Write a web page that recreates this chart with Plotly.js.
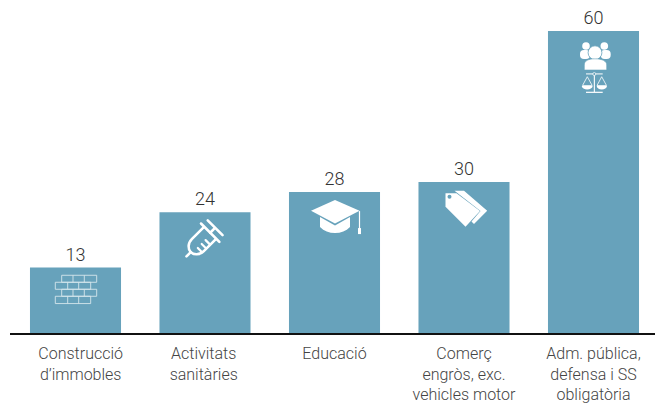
<!DOCTYPE html>
<html><head><meta charset="utf-8">
<script src="https://cdn.plot.ly/plotly-3.0.1.min.js"></script>
<style>html,body{margin:0;padding:0;background:#fff}</style>
</head><body><div id="chart" style="width:655px;height:403px"></div>
<script>
const categories = ["Construcció d’immobles","Activitats sanitàries","Educació","Comerç engròs, exc. vehicles motor","Adm. pública, defensa i SS obligatòria"];
const values = [13,24,28,30,60];
const tickLabels = ["Construcció<br>d’immobles","Activitats<br>sanitàries","Educació","Comerç<br>engròs, exc.<br>vehicles motor","Adm. pública,<br>defensa i SS<br>obligatòria"];
const labelNudge = [0.04,-0.01,0,0,0];
const barColor = "#67a2bb";
const W = 655, H = 403, baseY = 333, pxPerUnit = 5.033, left = 10;
const step = 129.5, firstCenter = 75.5;

function wrap(cx, top, body){
  const s = `<svg xmlns="http://www.w3.org/2000/svg" width="280" height="280" viewBox="${cx-35} ${top} 70 70">${body}</svg>`;
  return "data:image/svg+xml;charset=utf-8," + encodeURIComponent(s);
}
const bricks = `<g fill="none" stroke="#d6e6ec" stroke-width="0.9">
<path d="M61.7 275.7H96.7V282.7H61.7ZM73 275.7V282.7M84.3 275.7V282.7"/>
<path d="M55.3 282.7H90.7V289.7H55.3ZM67.7 282.7V289.7M78.7 282.7V289.7"/>
<path d="M61.7 289.7H96.7V296.7H61.7ZM73 289.7V296.7M84.3 289.7V296.7"/>
<path d="M55.3 296.7H90.7V304H55.3ZM67.7 296.7V304M78.7 296.7V304"/></g>`;
const syringe = `<g transform="translate(186,257) rotate(-45)" fill="none" stroke="#fff" stroke-width="2.6" stroke-linecap="round">
<path d="M0 0H6"/>
<path d="M33 -8.5H16C10 -8.5 6 -4 6 0C6 4 10 8.5 16 8.5H33"/>
<path d="M33.5 -13V13"/><path d="M33.5 0H40"/><path d="M40.5 -10.5V10.5"/>
<path d="M14 8V2M19.5 8V2M25 8V2" stroke-width="2.2"/></g>`;
const hat = `<g fill="#fff"><path d="M335 200L359.5 210.7L335 223.3L311 210.7Z"/>
<path d="M320 217L335 225.5L350 217V227C346 231 341 233 335 233C329 233 324 231 320 227Z"/>
<rect x="358.9" y="211" width="1.2" height="18"/><rect x="358" y="228" width="3" height="6"/></g>`;
const tags = `<path fill="#fff" d="M454 190.7H463.5L486.7 210.7L473.5 224L471 221.5L480 211Z"/>
<path fill="#fff" d="M445 193.3H456L479.5 211L465 226.7L445 206.7Z"/>
<circle cx="449" cy="196.7" r="2" fill="${barColor}"/>`;
const admin = `<g fill="#fff"><circle cx="586" cy="46" r="3.8"/><circle cx="604.3" cy="46" r="3.8"/>
<rect x="580" y="50" width="10" height="9" rx="4"/><rect x="600.7" y="50" width="10" height="9" rx="4"/>
<circle cx="595" cy="52.7" r="6.9" stroke="${barColor}" stroke-width="0.8"/>
<path d="M584.3 70V65C584.3 61 588 58.8 595 58.8C602 58.8 606.7 61 606.7 65V70Z" stroke="${barColor}" stroke-width="0.6"/>
<path d="M581.7 86H592.7C592.5 88 590 89.5 587.2 89.5C584.4 89.5 582 88 581.7 86ZM596.7 86H607C606.8 88 604.5 89.5 601.8 89.5C599 89.5 596.9 88 596.7 86Z"/>
<rect x="593.8" y="74" width="1.1" height="18"/><rect x="586" y="91.7" width="16.7" height="1.2"/><rect x="586" y="73.4" width="16.7" height="1"/></g>
<circle cx="594.3" cy="74" r="1.5" fill="${barColor}" stroke="#fff" stroke-width="0.7"/>
<path d="M587.3 76.7L582.5 85.5H592.2ZM601.7 76.7L597 85.5H606.5Z" fill="none" stroke="#fff" stroke-width="0.8"/>`;

const iconBodies = [bricks, syringe, hat, tags, admin];
const iconCenters = [75.5,204.5,334.5,463.5,593.5];
const iconTops = [268,212.8,192,182,31];

const images = iconBodies.map((b,i)=>({
  source: wrap(iconCenters[i], iconTops[i], b),
  xref:"x", yref:"y", x:i, y:values[i],
  sizex:70/step, sizey:70/pxPerUnit,
  xanchor:"center", yanchor:"top", sizing:"stretch", layer:"above"
}));

const fontFam = "Roboto, sans-serif";
Plotly.newPlot("chart",[{
  type:"bar", x:categories, y:values, marker:{color:barColor},
  text:values.map(String), textposition:"outside", cliponaxis:false,
  textfont:{family:fontFam,size:18,color:"#333",weight:300}, hoverinfo:"skip"
}],{
  width:W,height:H,
  margin:{l:left,r:0,t:0,b:H-baseY,pad:0},
  paper_bgcolor:"#fff",plot_bgcolor:"#fff",
  bargap:0.297,showlegend:false,
  xaxis:{type:"category",categoryorder:"array",categoryarray:categories,
    range:[(left-firstCenter)/step,(W-firstCenter)/step],
    tickmode:"array",tickvals:labelNudge.map((d,i)=>i+d),ticktext:tickLabels,
    ticks:"",showline:true,linecolor:"#111",linewidth:1.5,showgrid:false,zeroline:false,
    tickfont:{family:fontFam,size:16,color:"#444",weight:300},tickangle:0,ticklabelstandoff:5,automargin:false},
  yaxis:{range:[0,baseY/pxPerUnit],visible:false,fixedrange:true},
  images:images
},{staticPlot:true,displayModeBar:false});
</script></body></html>
